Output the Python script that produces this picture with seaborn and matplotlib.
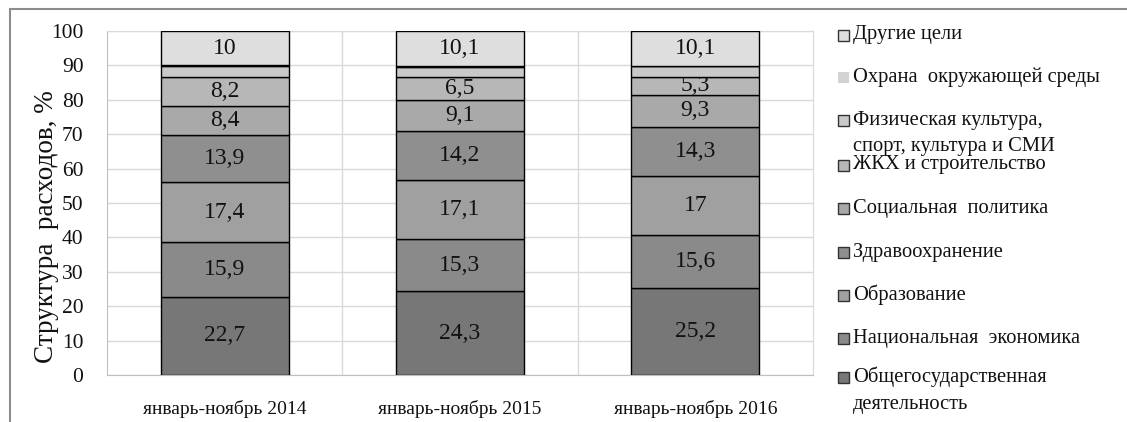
import matplotlib
matplotlib.use("Agg")
import matplotlib.pyplot as plt
from matplotlib.patches import Rectangle
import seaborn as sns
import numpy as np

# Структура расходов бюджета по периодам, %
periods = ["январь-ноябрь 2014", "январь-ноябрь 2015", "январь-ноябрь 2016"]

general_admin = [22.7, 24.3, 25.2]      # Общегосударственная деятельность
national_economy = [15.9, 15.3, 15.6]   # Национальная экономика
education = [17.4, 17.1, 17.0]          # Образование
healthcare = [13.9, 14.2, 14.3]         # Здравоохранение
social_policy = [8.4, 9.1, 9.3]         # Социальная политика
housing = [8.2, 6.5, 5.3]               # ЖКХ и строительство
sport_culture = [3.45, 3.1, 3.15]       # Физическая культура, спорт, культура и СМИ
environment = [0.05, 0.3, 0.05]         # Охрана окружающей среды
other = [10.0, 10.1, 10.1]              # Другие цели

# series from the bottom of the stack upwards: (legend text, values, fill, value labels shown)
series = [
    ("Общегосударственная\nдеятельность", general_admin, "#777777", True),
    ("Национальная  экономика", national_economy, "#8a8a8a", True),
    ("Образование", education, "#a0a0a0", True),
    ("Здравоохранение", healthcare, "#8f8f8f", True),
    ("Социальная  политика", social_policy, "#a9a9a9", True),
    ("ЖКХ и строительство", housing, "#b7b7b7", True),
    ("Физическая культура,\nспорт, культура и СМИ", sport_culture, "#c9c9c9", False),
    ("Охрана  окружающей среды", environment, "#d2d2d2", False),
    ("Другие цели", other, "#dedede", True),
]

W, H = 1127, 422
plt.rcParams["font.family"] = ["Liberation Serif", "DejaVu Serif"]

fig = plt.figure(figsize=(W / 100, H / 100), dpi=100)
ax = fig.add_axes([107 / W, 47 / H, 706 / W, 344 / H])

bottom = np.zeros(len(periods))
for name, vals, color, show in series:
    vals = np.asarray(vals, dtype=float)
    sns.barplot(x=periods, y=vals, bottom=bottom, color=color, width=0.545,
                edgecolor="black", linewidth=1.0, saturation=1, ax=ax, zorder=3)
    if show:
        labels = [f"{v:g}".replace(".", ",") for v in vals]
        ax.bar_label(ax.containers[-1], labels=labels, label_type="center",
                     fontsize=17, color="#111111")
    bottom = bottom + vals

ax.set_ylim(0, 100)
ax.set_xlim(-0.5, len(periods) - 0.5)
ax.set_yticks(np.arange(0, 101, 10))
ax.set_xticks(np.arange(0.5, len(periods) - 0.5), minor=True)
ax.grid(axis="y", which="major", color="#d9d9d9", lw=1, zorder=0)
ax.grid(axis="x", which="minor", color="#d9d9d9", lw=1, zorder=0)
ax.grid(axis="x", which="major", visible=False)
ax.set_axisbelow(True)
ax.tick_params(axis="y", length=0, pad=17, labelsize=15.5, labelcolor="#111111")
ax.tick_params(axis="x", which="both", length=0, pad=18, labelsize=14, labelcolor="#111111")
ax.set_xlabel("")
ax.set_ylabel("Структура  расходов, %", fontsize=19.5, color="#111111")
ax.yaxis.set_label_coords(-0.068, 0.43)
for side in ("left", "bottom"):
    ax.spines[side].set_color("#bfbfbf")
for side in ("top", "right"):
    ax.spines[side].set_color("#d9d9d9")

# legend column on the right, entries listed from the top of the stack down
legend_rows = [35, 77, 120, 165, 208, 252, 295, 338, 377]
for (name, vals, color, show), y in zip(series[::-1], legend_rows):
    edge = "none" if name.startswith("Охрана") else "#333333"
    fig.add_artist(Rectangle((838 / W, 1 - (y + 5.5) / H), 11 / W, 11 / H,
                             facecolor=color, edgecolor=edge, lw=1,
                             transform=fig.transFigure))
    for i, line in enumerate(name.split("\n")):
        fig.text(853 / W, 1 - (y + i * 27) / H, line, fontsize=14.8,
                 va="center", ha="left", color="#111111")

# outer frame of the chart area
fig.add_artist(Rectangle((10 / W, -0.2), 1.2, 1.2 - 9 / H, fill=False,
                         edgecolor="#8c8c8c", lw=1.5, transform=fig.transFigure))

fig.savefig("out.png", dpi=100, facecolor="white")
